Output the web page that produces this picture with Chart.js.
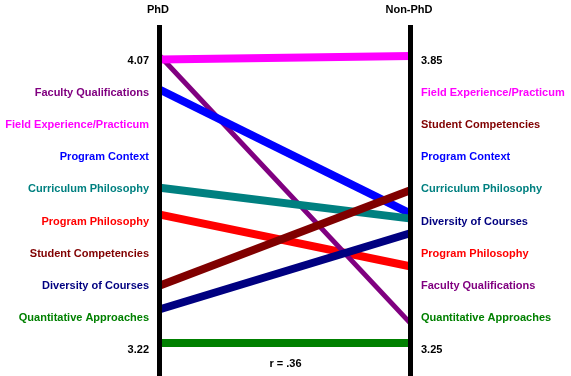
<!DOCTYPE html>
<html>
<head>
<meta charset="utf-8">
<script src="https://cdn.jsdelivr.net/npm/chart.js@4"></script>
<style>
  html, body { margin: 0; padding: 0; background: #fff; }
</style>
</head>
<body>
<canvas id="slope" width="571" height="376"></canvas>
<script>
// mean ratings per program component, PhD vs Non-PhD faculty
const categories = [
    'Faculty Qualifications',
    'Field Experience/Practicum',
    'Program Context',
    'Curriculum Philosophy',
    'Program Philosophy',
    'Student Competencies',
    'Diversity of Courses',
    'Quantitative Approaches'
];
const phdScores    = [4.07, 4.06, 3.97, 3.68, 3.60, 3.39, 3.32, 3.22];
const nonPhdScores = [3.29, 3.85, 3.52, 3.51, 3.41, 3.57, 3.48, 3.25];
const colors = ['#800080', '#ff00ff', '#0000ff', '#008080', '#ff0000', '#800000', '#000080', '#008000'];
const groups = ['PhD', 'Non-PhD'];
const phdRange = [3.22, 4.07];
const nonPhdRange = [3.25, 3.85];
const correlation = 'r = .36';

const FONT = { family: '"Liberation Sans", Arial, sans-serif', size: 11, weight: 'bold' };

// scale each side to its own min..max so both axes share one plot
const norm = (v, r) => (v - r[0]) / (r[1] - r[0]);

// labels on each side are listed by rank
const rank = scores => categories.map((c, i) => i).sort((a, b) => scores[b] - scores[a]);
const leftIdx = rank(phdScores);
const rightIdx = rank(nonPhdScores);
const leftLabels = [phdRange[1].toFixed(2), ...leftIdx.map(i => categories[i]), phdRange[0].toFixed(2)];
const rightLabels = [nonPhdRange[1].toFixed(2), ...rightIdx.map(i => categories[i]), nonPhdRange[0].toFixed(2)];
const leftColors = ['#000', ...leftIdx.map(i => colors[i]), '#000'];
const rightColors = ['#000', ...rightIdx.map(i => colors[i]), '#000'];

// which line sits on top where they cross (lower = on top)
const layer = [6, 0, 5, 3, 7, 2, 1, 0];

const axesPlugin = {
    id: 'axesPlugin',
    afterDatasetsDraw(chart) {
        const { ctx, scales: { x } } = chart;
        ctx.save();
        ctx.fillStyle = '#000';
        ctx.font = 'bold 11px "Liberation Sans", Arial, sans-serif';
        ctx.textAlign = 'center';
        ctx.textBaseline = 'middle';
        [0, 1].forEach((v, i) => {
            const px = x.getPixelForValue(v);
            ctx.fillRect(Math.round(px) - 3, 25, 5, chart.height - 25);
            ctx.fillText(groups[i], px - 2, 10);
        });
        ctx.fillText(correlation, (x.getPixelForValue(0) + x.getPixelForValue(1)) / 2, 364);
        ctx.restore();
    }
};

// side label axes: fixed width, no extra padding above/below
const fitSide = s => { s.width = 160; s.paddingTop = 0; s.paddingBottom = 0; };

new Chart(document.getElementById('slope'), {
    type: 'line',
    data: {
        datasets: categories.map((c, i) => ({
            label: c,
            data: [
                { x: 0, y: norm(phdScores[i], phdRange) },
                { x: 1, y: norm(nonPhdScores[i], nonPhdRange) }
            ],
            borderColor: colors[i],
            borderWidth: i === 0 ? 5 : 8,
            borderCapStyle: 'butt',
            pointRadius: 0,
            clip: false,
            order: layer[i],
            xAxisID: 'x',
            yAxisID: 'y'
        }))
    },
    options: {
        responsive: false,
        maintainAspectRatio: false,
        animation: false,
        events: [],
        layout: { padding: { top: 45, bottom: 10, left: 0, right: 0 } },
        plugins: { legend: { display: false }, tooltip: { enabled: false } },
        scales: {
            x: { type: 'linear', min: 0, max: 1, display: false },
            y: { type: 'linear', min: -23 / 287, max: 1 + 11 / 287, display: false },
            left: {
                type: 'category',
                position: 'left',
                labels: leftLabels,
                offset: true,
                grid: { display: false, drawTicks: false },
                border: { display: false },
                ticks: { autoSkip: false, padding: 11, font: FONT, color: c => leftColors[c.index] },
                afterFit: fitSide
            },
            right: {
                type: 'category',
                position: 'right',
                labels: rightLabels,
                offset: true,
                grid: { display: false, drawTicks: false },
                border: { display: false },
                ticks: { autoSkip: false, padding: 10, font: FONT, color: c => rightColors[c.index] },
                afterFit: fitSide
            }
        }
    },
    plugins: [axesPlugin]
});
</script>
</body>
</html>
